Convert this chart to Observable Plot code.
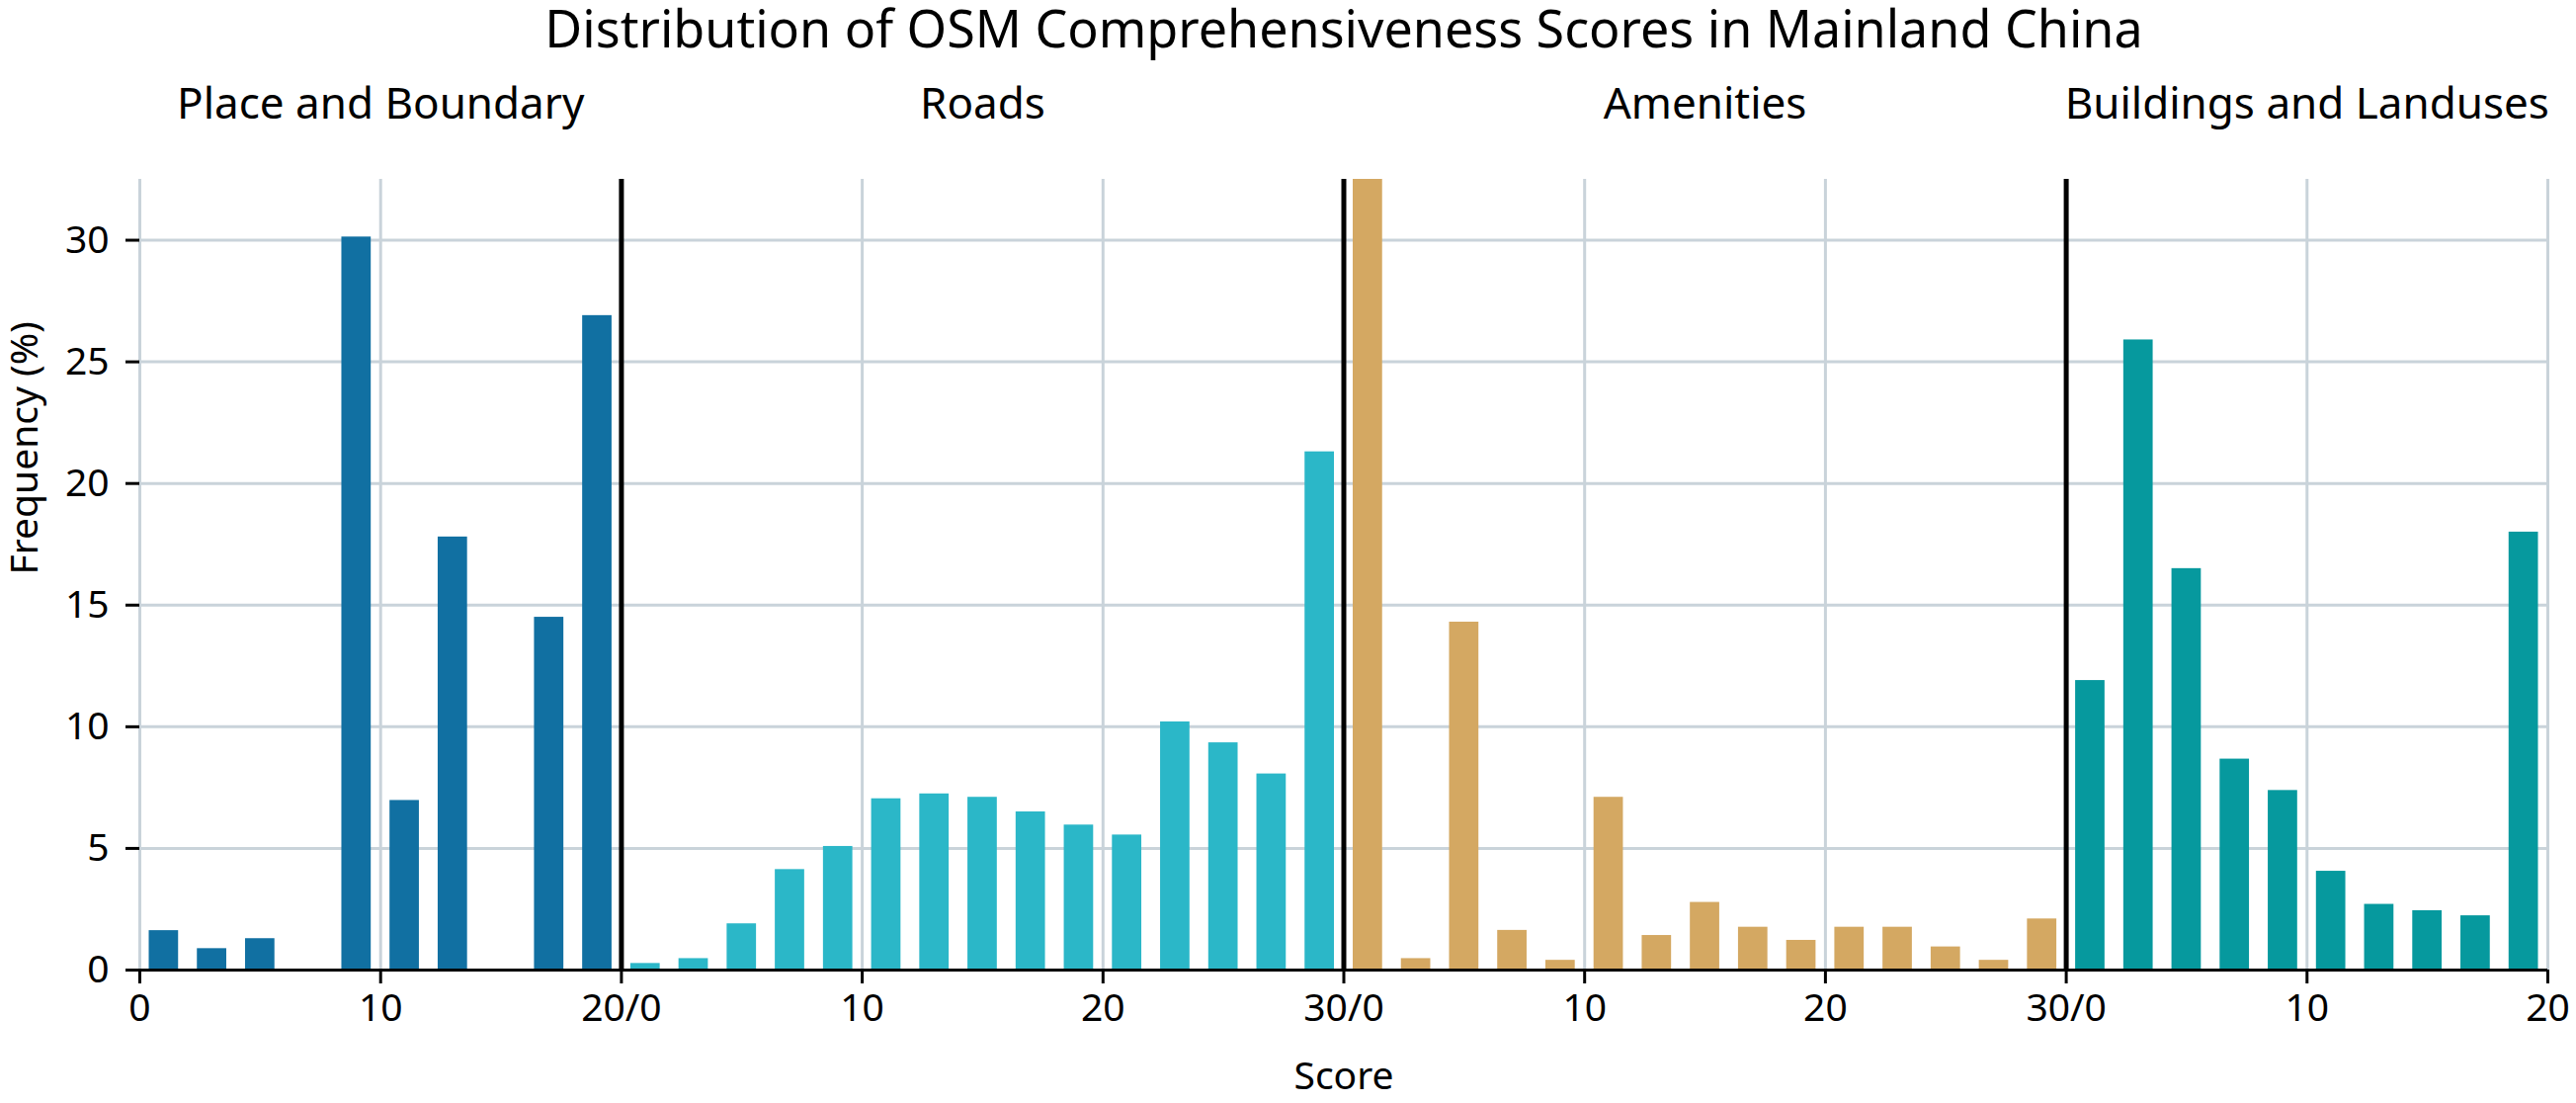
<!DOCTYPE html>
<html>
<head>
<meta charset="utf-8">
<script src="https://cdn.jsdelivr.net/npm/d3@7"></script>
<script src="https://cdn.jsdelivr.net/npm/@observablehq/plot@0.6"></script>
<style>
  html, body { margin: 0; padding: 0; background: #fff; }
  #chart svg { display: block; }
</style>
</head>
<body>
<div id="chart"></div>
<script>
// ---- data ----
const title = "Distribution of OSM Comprehensiveness Scores in Mainland China";
const categories = ["Place and Boundary", "Roads", "Amenities", "Buildings and Landuses"];
const maxScores = [20, 30, 30, 20];
const colors = ["#1170a2", "#2bb7c8", "#d4a862", "#06999e"];
const binCenters20 = [1, 3, 5, 7, 9, 11, 13, 15, 17, 19];
const binCenters30 = [1, 3, 5, 7, 9, 11, 13, 15, 17, 19, 21, 23, 25, 27, 29];
const placeValues = [1.62, 0.88, 1.29, 0, 30.13, 6.97, 17.8, 0, 14.5, 26.9];
const roadValues = [0.27, 0.47, 1.9, 4.13, 5.08, 7.04, 7.24, 7.1, 6.5, 5.96, 5.55, 10.2, 9.34, 8.06, 21.3];
const amenityValues = [34.0, 0.47, 14.3, 1.63, 0.4, 7.1, 1.42, 2.78, 1.76, 1.22, 1.76, 1.76, 0.95, 0.4, 2.1];
const buildingValues = [11.9, 25.9, 16.5, 8.67, 7.38, 4.06, 2.7, 2.44, 2.23, 18.0];
const yTicks = [0, 5, 10, 15, 20, 25, 30];
const xTickLabels = ["0", "10", "20/0", "10", "20", "30/0", "10", "20", "30/0", "10", "20"];

// ---- build table ----
const seriesValues = [placeValues, roadValues, amenityValues, buildingValues];
const seriesCenters = [binCenters20, binCenters30, binCenters30, binCenters20];
const offsets = [];
let acc = 0;
for (const m of maxScores) { offsets.push(acc); acc += m; }
const total = acc;
const halfBar = 0.61;
const bars = [];
categories.forEach((cat, i) => {
  seriesCenters[i].forEach((c, j) => {
    bars.push({cat, x: offsets[i] + c, v: seriesValues[i][j], color: colors[i]});
  });
});
const panels = categories.map((cat, i) => ({cat, mid: offsets[i] + maxScores[i] / 2}));
const separators = offsets.slice(1);
const xTicks = d3.range(0, total + 1, 10);

const font = "Noto Sans";
const chart = Plot.plot({
  width: 2607,
  height: 1116,
  marginLeft: 141,
  marginRight: 29,
  marginTop: 181,
  marginBottom: 135,
  style: {fontFamily: font, fontSize: "39px", color: "#000", background: "#fff"},
  x: {domain: [0, total]},
  y: {domain: [0, 32.5]},
  marks: [
    Plot.gridX(xTicks, {stroke: "#c9d3da", strokeOpacity: 1, strokeWidth: 3}),
    Plot.gridY(yTicks.filter(t => t > 0), {stroke: "#c9d3da", strokeOpacity: 1, strokeWidth: 3}),
    Plot.rectY(bars, {x1: d => d.x - halfBar, x2: d => d.x + halfBar, y: "v", fill: "color", clip: true}),
    Plot.ruleX(separators, {y1: 0, y2: 32.5, stroke: "#000", strokeWidth: 5}),
    Plot.ruleY([0], {stroke: "#000", strokeWidth: 3}),
    Plot.axisY(yTicks, {tickSize: 14, tickPadding: 17, strokeWidth: 3, fontSize: 39, label: null}),
    Plot.axisX(xTicks, {tickSize: 14, tickPadding: 10, strokeWidth: 3, fontSize: 39, label: null,
      tickFormat: (d, i) => xTickLabels[xTicks.indexOf(d)]}),
    Plot.text(panels, {x: "mid", frameAnchor: "top", dy: -76, text: "cat", fontSize: 44, lineAnchor: "middle"}),
    Plot.text([title], {frameAnchor: "top", dy: -150, text: d => d, fontSize: 52, lineAnchor: "middle"}),
    Plot.text(["Score"], {frameAnchor: "bottom", dy: 108, text: d => d, fontSize: 39, lineAnchor: "middle"}),
    Plot.text(["Frequency (%)"], {frameAnchor: "left", dx: -116, rotate: -90, text: d => d, fontSize: 39, lineAnchor: "middle"})
  ]
});
document.getElementById("chart").appendChild(chart);
</script>
</body>
</html>
